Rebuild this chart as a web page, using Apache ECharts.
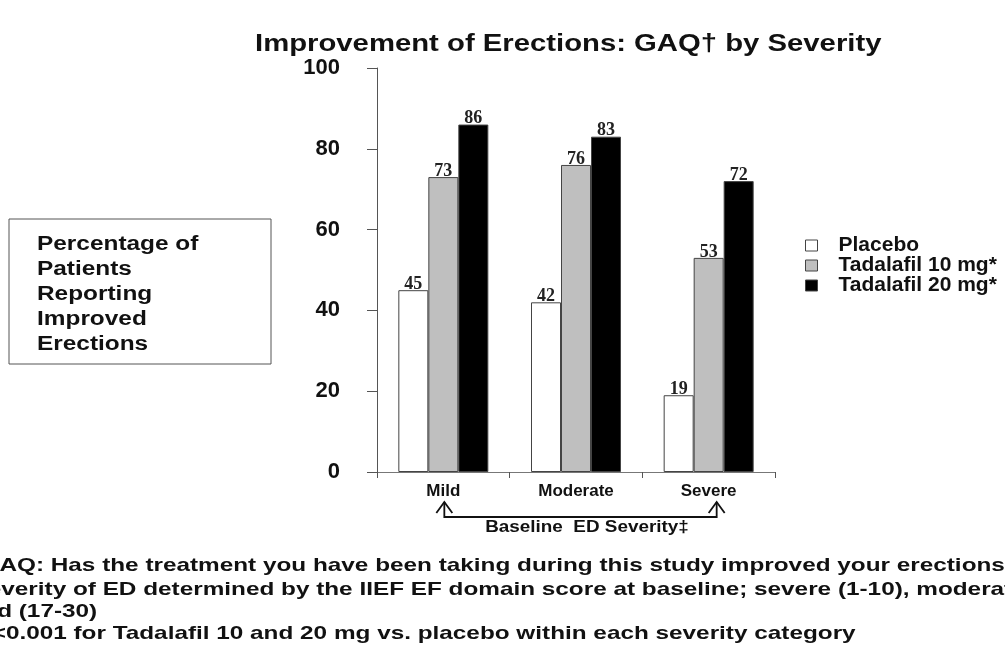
<!DOCTYPE html>
<html>
<head>
<meta charset="utf-8">
<script src="https://cdn.jsdelivr.net/npm/echarts@6/dist/echarts.min.js"></script>
<style>
  html, body { margin: 0; padding: 0; background: #fff; }
  #chart { width: 1005px; height: 648px; }
</style>
</head>
<body>
<div id="chart"></div>
<script>
// categories + values
const categories = ['Mild', 'Moderate', 'Severe']
const placebo = [45, 42, 19]
const tadalafil10 = [73, 76, 53]
const tadalafil20 = [86, 83, 72]
const seriesNames = ['Placebo', 'Tadalafil 10 mg*', 'Tadalafil 20 mg*']
const yMin = 0
const yMax = 100
const yStep = 20

const footnotes = [
  '†GAQ: Has the treatment you have been taking during this study improved your erections?',
  '‡Severity of ED determined by the IIEF EF domain score at baseline; severe (1-10), moderate (11-16),',
  'mild (17-30)',
  '*P<0.001 for Tadalafil 10 and 20 mg vs. placebo within each severity category',
]

const sans = 'Liberation Sans'
const chart = echarts.init(document.getElementById('chart'))

const barLabel = {
  show: true,
  position: 'top',
  distance: -1,
  lineHeight: 14,
  color: '#222',
  fontFamily: 'Liberation Serif',
  fontWeight: 'bold',
  fontSize: 18,
}

function bar(name, data, fill) {
  return {
    name: name,
    type: 'bar',
    data: data,
    barWidth: 30,
    barGap: '0%',
    itemStyle: { color: fill, borderColor: '#444', borderWidth: 1 },
    label: barLabel,
  }
}

chart.setOption({
  animation: false,
  backgroundColor: '#fff',
  grid: { left: 377, right: 230, top: 68, bottom: 176 },
  legend: {
    orient: 'vertical',
    left: 800,
    top: 230,
    icon: 'rect',
    itemWidth: 12,
    itemHeight: 11,
    itemGap: -1,
    data: seriesNames,
    itemStyle: { borderColor: '#444', borderWidth: 1 },
    textStyle: {
      fontFamily: sans, fontWeight: 'bold', fontSize: 21, color: '#111',
      lineHeight: 18, padding: [0, 0, 0, 16],
    },
  },
  xAxis: {
    type: 'category',
    data: categories,
    axisLine: { lineStyle: { color: '#777', width: 1 } },
    axisTick: { show: true, length: 6, lineStyle: { color: '#555' } },
    axisLabel: { margin: 11, fontFamily: sans, fontWeight: 'bold', fontSize: 17, color: '#111' },
  },
  yAxis: {
    type: 'value',
    min: yMin,
    max: yMax,
    interval: yStep,
    splitLine: { show: false },
    axisLine: { show: true, lineStyle: { color: '#555', width: 1 } },
    axisTick: { show: true, length: 10, lineStyle: { color: '#555' } },
    axisLabel: { margin: 37, fontFamily: sans, fontWeight: 'bold', fontSize: 22, color: '#111' },
  },
  series: [
    bar(seriesNames[0], placebo, '#ffffff'),
    bar(seriesNames[1], tadalafil10, '#bfbfbf'),
    bar(seriesNames[2], tadalafil20, '#000000'),
  ],
})

// annotations: title, y-axis box, bracket, footnotes
const xMild = chart.convertToPixel({ xAxisIndex: 0 }, 'Mild') + 1
const xSevere = chart.convertToPixel({ xAxisIndex: 0 }, 'Severe') + 8
const yTip = 502
const yLine = 517

function arrow(x) {
  return {
    type: 'polyline',
    shape: { points: [[x - 8, yTip + 11], [x, yTip], [x + 8, yTip + 11]] },
    style: { stroke: '#111', lineWidth: 1.8, fill: null },
  }
}

const elements = [
  {
    type: 'text', x: 255, y: 44, scaleX: 1.22,
    style: { text: 'Improvement of Erections: GAQ† by Severity', font: 'bold 24px ' + sans, fill: '#111', textVerticalAlign: 'middle' },
  },
  {
    type: 'rect', shape: { x: 9, y: 219, width: 262, height: 145 },
    style: { fill: '#fff', stroke: '#555', lineWidth: 1 },
  },
  {
    type: 'text', x: 37, y: 232, scaleX: 1.22,
    style: {
      text: 'Percentage of\nPatients\nReporting\nImproved\nErections',
      font: 'bold 20px ' + sans, lineHeight: 25, fill: '#111', textVerticalAlign: 'top',
    },
  },
  {
    type: 'polyline',
    shape: { points: [[xMild, yTip], [xMild, yLine], [xSevere, yLine], [xSevere, yTip]] },
    style: { stroke: '#111', lineWidth: 1.8, fill: null },
  },
  arrow(xMild),
  arrow(xSevere),
  {
    type: 'text', x: 587, y: 528, scaleX: 1.18,
    style: { text: 'Baseline  ED Severity‡', font: 'bold 16px ' + sans, fill: '#111', textAlign: 'center', textVerticalAlign: 'middle' },
  },
]

const noteX = [-33, -42, -38, -34]
const noteY = [566, 590, 612, 634]
footnotes.forEach((t, i) => {
  elements.push({
    type: 'text', x: noteX[i], y: noteY[i], scaleX: 1.28,
    style: { text: t, font: 'bold 19px ' + sans, fill: '#111', textVerticalAlign: 'middle' },
  })
})

chart.setOption({ graphic: { elements: elements } })
</script>
</body>
</html>
